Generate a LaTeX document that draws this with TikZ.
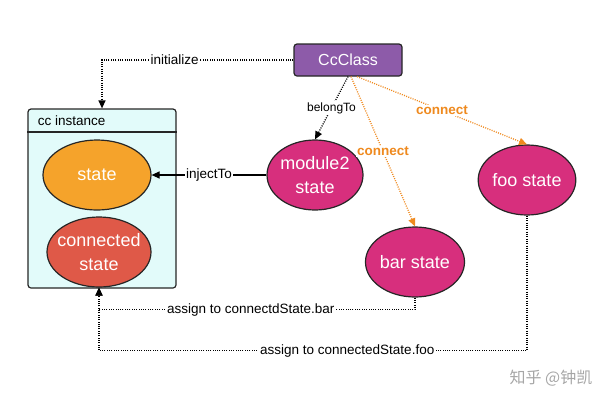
\documentclass[tikz,border=0pt]{standalone}
\usepackage{fontspec}
\setmainfont{Liberation Sans}
\newfontfamily\cjk{Noto Sans CJK SC}
\usepackage{tikz}
\usetikzlibrary{arrows.meta, shapes.geometric}

\definecolor{clspurple}{HTML}{8D5BA9}
\definecolor{instbg}{HTML}{E2FBFA}
\definecolor{stateorange}{HTML}{F5A32B}
\definecolor{connred}{HTML}{DF5948}
\definecolor{modmagenta}{HTML}{D72F7D}
\definecolor{linkorange}{HTML}{EF8A1F}

\begin{document}
\begin{tikzpicture}[x=1pt, y=-1pt, line width=1.2pt,
    statenode/.style={ellipse, draw=black!85, line width=1.2pt, inner sep=0pt,
      minimum width=96pt, minimum height=70pt, text=white, align=center,
      font=\fontsize{18}{24}\selectfont},
    dotline/.style={line width=1.3pt, dash pattern=on 1pt off 1.3pt,
      -{Triangle[length=8pt, width=7pt]}},
    lbl/.style={fill=white, inner sep=1.5pt, font=\fontsize{13.5}{15}\selectfont}]
    \useasboundingbox (0,0) rectangle (600,400);

    % class and instance
    \node[draw=black!85, fill=clspurple, rounded corners=3pt, minimum width=108pt,
      minimum height=32pt, text=white, font=\fontsize{16}{18}\selectfont] at (348,60) (cls) {CcClass};
    \node[draw=black!85, fill=instbg, rounded corners=3pt, minimum width=148pt,
      minimum height=179pt, inner sep=0pt] at (102,198.5) (inst) {};
    \draw[line width=1.2pt, black!85] (inst.west |- 0,132) -- (inst.east |- 0,132);
    \node[anchor=west, font=\fontsize{13.5}{15}\selectfont] at (34,121) (title) {cc instance};

    % states
    \node[statenode, fill=stateorange, minimum width=108pt] at (97,175) (st) {state};
    \node[statenode, fill=connred, minimum width=104pt, inner xsep=-8pt] at (99,252) (conn) {connected\\state};
    \node[statenode, fill=modmagenta, inner xsep=-4pt] at (315,175) (mod) {module2\\state};
    \node[statenode, fill=modmagenta] at (415,262) (bar) {bar state};
    \node[statenode, fill=modmagenta] at (527,180) (foo) {foo state};

    % links
    \draw[dotline] (cls.west) -| node[lbl, pos=0.31] {initialize} (inst.north);
    \draw[dotline] (cls.south) -- node[lbl, font=\fontsize{12}{14}\selectfont] {belongTo} (mod.north);
    \draw[dotline, linkorange] ([xshift=3pt]cls.south) -- node[lbl, text=linkorange, font=\bfseries\fontsize{13.5}{15}\selectfont, pos=0.5] {connect} (bar.north);
    \draw[dotline, linkorange] ([xshift=9pt]cls.south) -- node[lbl, text=linkorange, font=\bfseries\fontsize{13.5}{15}\selectfont] {connect} (foo.north);
    \draw[-{Triangle[length=8pt, width=7pt]}] (mod.west) -- node[lbl] {injectTo} (st.east);
    \draw[dotline] (bar.south) -- ++(0,12) -| node[lbl, pos=0.26] {assign to connectdState.bar} (conn.south);
    \draw[dotline] (foo.south) -- ++(0,135) -| node[lbl, pos=0.21] {assign to connectedState.foo} (conn.south);

    \node[text=black!35, font=\cjk\fontsize{16}{18}\selectfont] at (551,378) (mark) {知乎 @钟凯};
\end{tikzpicture}
\end{document}
